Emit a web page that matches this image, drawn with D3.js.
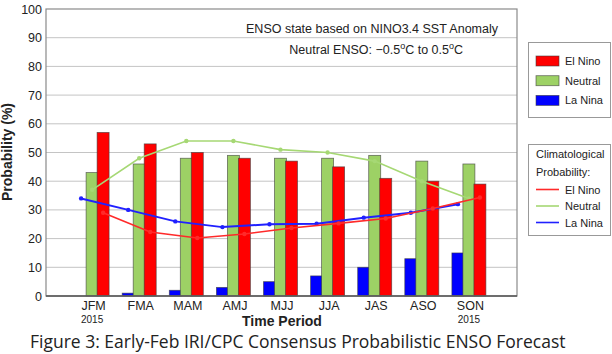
<!DOCTYPE html>
<html>
<head>
<meta charset="utf-8">
<script src="https://cdn.jsdelivr.net/npm/d3@7"></script>
<style>
    body { margin: 0; background: #fff; }
    svg { display: block; }
    text { font-family: "Liberation Sans", Arial, sans-serif; fill: #222; }
</style>
</head>
<body>
<svg id="chart" width="612" height="354"></svg>
<script>
const periods = ['JFM', 'FMA', 'MAM', 'AMJ', 'MJJ', 'JJA', 'JAS', 'ASO', 'SON'];
const elNino = [57, 53, 50, 48, 47, 45, 41, 40, 39];
const neutral = [43, 46, 48, 49, 48, 48, 49, 47, 46];
const laNina = [0, 1, 2, 3, 5, 7, 10, 13, 15];
const climElNino = [29, 22.3, 20.2, 21.6, 23.7, 25.3, 27, 30.5, 34.3];
const climNeutral = [37, 48, 54, 54, 51, 50, 47, 40, 34];
const climLaNina = [34, 30, 26, 24, 25, 25.2, 27.3, 29, 32];
const yTicks = [0, 10, 20, 30, 40, 50, 60, 70, 80, 90, 100];
const yearLabels = {JFM: '2015', SON: '2015'};

const colors = {elNino: '#ff0000', neutral: '#9dd165', laNina: '#0000ff'};
const lineColors = {elNino: '#ff2a2a', neutral: '#a6d874', laNina: '#2020ff'};

d3.select(window).on('load', init);

function init() {
    const svg = d3.select('#chart');
    const left = 46, right = 517, top = 9, bottom = 296;

    const x = d3.scalePoint().domain(periods).range([left, right]).padding(1);
    const y = d3.scaleLinear().domain([0, 100]).range([bottom, top]);

    // series: name, values, bar offset from the period point
    const series = [
        {key: 'laNina', bars: laNina, clim: climLaNina, dx: -12},
        {key: 'neutral', bars: neutral, clim: climNeutral, dx: -1},
        {key: 'elNino', bars: elNino, clim: climElNino, dx: 10}
    ];
    const barW = 12;

    // grid
    svg.append('g')
        .selectAll('line')
        .data(yTicks.slice(1, -1))
        .enter()
        .append('line')
        .attr('x1', left).attr('x2', right)
        .attr('y1', d => y(d)).attr('y2', d => y(d))
        .attr('stroke', '#c4c4c4')
        .attr('stroke-width', 1);

    // y axis labels
    const yAxis = svg.append('g')
        .attr('transform', 'translate(' + left + ',0)')
        .call(d3.axisLeft(y).tickValues(yTicks).tickSize(0).tickPadding(4));
    yAxis.select('.domain').remove();
    yAxis.selectAll('text')
        .style('font-family', '"Liberation Sans", Arial, sans-serif')
        .style('font-size', '12.5px')
        .attr('fill', '#222');

    // bars
    series.forEach(s => {
        svg.append('g')
            .selectAll('rect')
            .data(s.bars.map((v, i) => ({p: periods[i], v: v})).filter(d => d.v > 0))
            .enter()
            .append('rect')
            .attr('x', d => x(d.p) + s.dx - barW / 2)
            .attr('y', d => y(d.v))
            .attr('width', barW)
            .attr('height', d => y(0) - y(d.v))
            .attr('fill', colors[s.key])
            .attr('stroke', 'rgba(60,60,60,0.7)')
            .attr('stroke-width', 0.8);
    });

    // climatology lines on top
    const line = d3.line().x(d => d[0]).y(d => d[1]);
    series.forEach(s => {
        const pts = s.clim.map((v, i) => [x(periods[i]) + s.dx, y(v)]);
        svg.append('path')
            .attr('d', line(pts))
            .attr('fill', 'none')
            .attr('stroke', lineColors[s.key])
            .attr('stroke-width', s.key === 'laNina' ? 2 : 1.6);
        svg.append('g')
            .selectAll('circle')
            .data(pts)
            .enter()
            .append('circle')
            .attr('cx', d => d[0])
            .attr('cy', d => d[1])
            .attr('r', 2.2)
            .attr('fill', lineColors[s.key]);
    });

    // frame
    svg.append('rect')
        .attr('x', left).attr('y', top)
        .attr('width', right - left).attr('height', bottom - top)
        .attr('fill', 'none')
        .attr('stroke', '#8a8a8a')
        .attr('stroke-width', 1.2);
    svg.append('line')
        .attr('x1', left).attr('x2', right)
        .attr('y1', bottom).attr('y2', bottom)
        .attr('stroke', '#555')
        .attr('stroke-width', 1.5);

    // x axis labels
    const xAxis = svg.append('g')
        .attr('transform', 'translate(0,' + bottom + ')')
        .call(d3.axisBottom(x).tickSize(0).tickPadding(5));
    xAxis.select('.domain').remove();
    xAxis.selectAll('text')
        .style('font-family', '"Liberation Sans", Arial, sans-serif')
        .style('font-size', '12.5px')
        .attr('fill', '#222');

    svg.append('g')
        .selectAll('text')
        .data(Object.keys(yearLabels))
        .enter()
        .append('text')
        .attr('x', d => x(d) - 1)
        .attr('y', 323)
        .attr('text-anchor', 'middle')
        .style('font-size', '10px')
        .text(d => yearLabels[d]);

    // axis titles
    svg.append('text')
        .attr('x', 282).attr('y', 326)
        .attr('text-anchor', 'middle')
        .style('font-size', '14px')
        .style('font-weight', 'bold')
        .attr('fill', '#000')
        .text('Time Period');

    svg.append('text')
        .attr('transform', 'translate(12,152) rotate(-90)')
        .attr('text-anchor', 'middle')
        .style('font-size', '14px')
        .style('font-weight', 'bold')
        .attr('fill', '#000')
        .text('Probability (%)');

    // annotations
    svg.append('text')
        .attr('x', 498).attr('y', 33)
        .attr('text-anchor', 'end')
        .style('font-size', '12.5px')
        .text('ENSO state based on NINO3.4 SST Anomaly');

    const note = svg.append('text')
        .attr('x', 463).attr('y', 54)
        .attr('text-anchor', 'end')
        .style('font-size', '12.5px');
    note.append('tspan').text('Neutral ENSO: \u22120.5');
    note.append('tspan').attr('dy', -5).style('font-size', '9px').text('o');
    note.append('tspan').attr('dy', 5).text('C to 0.5');
    note.append('tspan').attr('dy', -5).style('font-size', '9px').text('o');
    note.append('tspan').attr('dy', 5).text('C');

    // legend boxes
    plotLegend(svg);

    // caption
    const cap = svg.append('text')
        .attr('x', 30).attr('y', 348)
        .style('font-family', '"Open Sans", "Noto Sans", sans-serif')
        .style('font-size', '17.5px')
        .attr('fill', '#000')
        .text('Figure 3: Early-Feb IRI/CPC Consensus Probabilistic ENSO Forecast');
    if (cap.node().getComputedTextLength() > 541) {
        cap.attr('textLength', 541).attr('lengthAdjust', 'spacingAndGlyphs');
    }
}

function plotLegend(svg) {
    const names = [['elNino', 'El Nino'], ['neutral', 'Neutral'], ['laNina', 'La Nina']];

    const g1 = svg.append('g');
    g1.append('rect')
        .attr('x', 528.5).attr('y', 42.5).attr('width', 82).attr('height', 75)
        .attr('fill', '#fff').attr('stroke', '#999');
    g1.selectAll('.sw')
        .data(names)
        .enter()
        .append('rect')
        .attr('x', 536).attr('y', (d, i) => 56 + i * 19.7)
        .attr('width', 23).attr('height', 10)
        .attr('fill', d => colors[d[0]])
        .attr('stroke', 'rgba(60,60,60,0.7)')
        .attr('stroke-width', 0.8);
    g1.selectAll('.lab')
        .data(names)
        .enter()
        .append('text')
        .attr('x', 565).attr('y', (d, i) => 65 + i * 19.7)
        .style('font-size', '11px')
        .text(d => d[1]);

    const g2 = svg.append('g');
    g2.append('rect')
        .attr('x', 528.5).attr('y', 144.5).attr('width', 82).attr('height', 91)
        .attr('fill', '#fff').attr('stroke', '#999');
    g2.append('text')
        .attr('x', 536).attr('y', 158)
        .style('font-size', '11px')
        .text('Climatological');
    g2.append('text')
        .attr('x', 536).attr('y', 176)
        .style('font-size', '11px')
        .text('Probability:');
    g2.selectAll('.ln')
        .data(names)
        .enter()
        .append('line')
        .attr('x1', 536).attr('x2', 559)
        .attr('y1', (d, i) => 189.5 + i * 16.5)
        .attr('y2', (d, i) => 189.5 + i * 16.5)
        .attr('stroke', d => lineColors[d[0]])
        .attr('stroke-width', 1.6);
    g2.selectAll('.lab')
        .data(names)
        .enter()
        .append('text')
        .attr('x', 565).attr('y', (d, i) => 193.5 + i * 16.5)
        .style('font-size', '11px')
        .text(d => d[1]);
}
</script>
</body>
</html>
